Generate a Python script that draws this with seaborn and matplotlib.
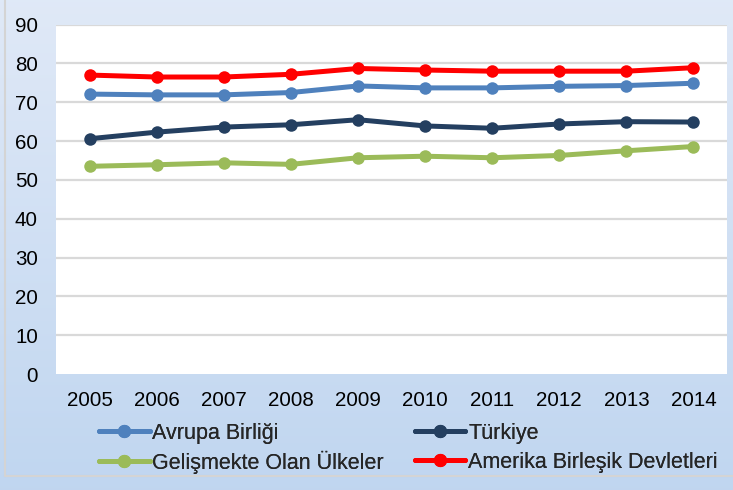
import numpy as np
import pandas as pd
import matplotlib
matplotlib.use("Agg")
import matplotlib.pyplot as plt
import seaborn as sns

# --- veriler ---
YILLAR = [2005, 2006, 2007, 2008, 2009, 2010, 2011, 2012, 2013, 2014]
AVRUPA = [72.1, 71.9, 71.9, 72.5, 74.2, 73.7, 73.7, 74.1, 74.3, 74.9]
TURKIYE = [60.6, 62.3, 63.6, 64.2, 65.5, 63.9, 63.3, 64.4, 65.0, 64.9]
GELISMEKTE = [53.5, 53.9, 54.4, 54.0, 55.7, 56.1, 55.7, 56.3, 57.5, 58.6]
ABD = [77.0, 76.5, 76.5, 77.2, 78.7, 78.3, 78.0, 78.0, 78.0, 78.9]

SERILER = ["Avrupa Birliği", "Türkiye", "Gelişmekte Olan Ülkeler", "Amerika Birleşik Devletleri"]
RENKLER = ["#4f81bd", "#243f60", "#9bbb59", "#ff0000"]
Y_TICKS = [0, 10, 20, 30, 40, 50, 60, 70, 80, 90]

df = pd.DataFrame({"Yil": YILLAR * 4,
                   "Deger": AVRUPA + TURKIYE + GELISMEKTE + ABD,
                   "Seri": sum([[s] * len(YILLAR) for s in SERILER], [])})

sns.set_theme(style="white")
plt.rcParams["font.family"] = ["Liberation Sans", "DejaVu Sans"]

fig = plt.figure(figsize=(7.33, 4.90), dpi=100)

# arka plan: acik mavi gecis
bg = fig.add_axes([0, 0, 1, 1], zorder=-10)
grad = np.linspace(0, 1, 256).reshape(-1, 1)
top = np.array([0.878, 0.914, 0.969])
bot = np.array([0.753, 0.839, 0.941])
img = top + (bot - top) * grad[..., None]
img = np.repeat(img, 2, axis=1)
bg.imshow(img, aspect="auto", extent=[0, 1, 0, 1])
bg.plot([0.007, 0.007], [0.029, 1.0], color="#d4d4d4", lw=1.5)
bg.plot([0.007, 1.0], [0.029, 0.029], color="#d4d4d4", lw=1.5)
bg.set_xlim(0, 1)
bg.set_ylim(0, 1)
bg.axis("off")

ax = fig.add_axes([0.0764, 0.2367, 0.9154, 0.7131])
ax.set_facecolor("white")

sns.lineplot(data=df, x="Yil", y="Deger", hue="Seri", hue_order=SERILER,
             palette=RENKLER, marker="o", markersize=9, markeredgewidth=0,
             linewidth=3.6, ax=ax, legend=False)

ax.set_xlim(YILLAR[0] - 0.5, YILLAR[-1] + 0.5)
ax.set_ylim(0, 90)
ax.set_xticks(YILLAR)
ax.set_xticklabels([str(y) for y in YILLAR])
ax.set_yticks(Y_TICKS)
for y in Y_TICKS[1:]:
    ax.axhline(y, color="#d9d9d9", lw=1.6, zorder=0)
ax.set_xlabel("")
ax.set_ylabel("")
for s in ax.spines.values():
    s.set_visible(False)
ax.tick_params(axis="both", length=0, labelsize=14.8, colors="black")
ax.tick_params(axis="x", pad=12.5)
ax.tick_params(axis="y", pad=13)
ax.grid(False)

# legend: her giris ayri, 2x2 izgara (satir satir)
konumlar = [(0.135, 0.116), (0.566, 0.116), (0.135, 0.057), (0.566, 0.057)]
for i, (lx, ly) in enumerate(konumlar):
    h = plt.Line2D([0], [0], color=RENKLER[i], lw=3.6, marker="o", markersize=8.5)
    leg = fig.legend([h], [SERILER[i]], loc="center left", bbox_to_anchor=(lx, ly),
                     frameon=False, fontsize=15.5, handlelength=2.35,
                     handletextpad=0.12, borderpad=0, borderaxespad=0)
    fig.add_artist(leg)

fig.savefig("out.png", dpi=100)
